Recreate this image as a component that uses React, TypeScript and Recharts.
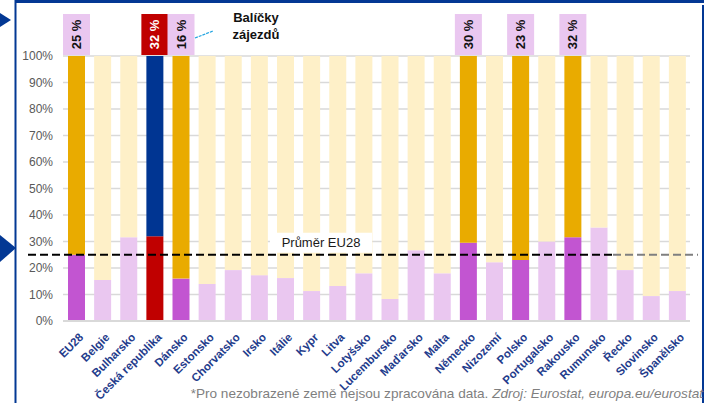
import { Bar, CartesianGrid, Cell, ComposedChart, LabelList, ReferenceLine, XAxis, YAxis } from "recharts";

const countries = [
  "EU28", "Belgie", "Bulharsko", "Česká republika", "Dánsko", "Estonsko", "Chorvatsko", "Irsko",
  "Itálie", "Kypr", "Litva", "Lotyšsko", "Lucembursko", "Maďarsko", "Malta", "Německo",
  "Nizozemí", "Polsko", "Portugalsko", "Rakousko", "Rumunsko", "Řecko", "Slovinsko", "Španělsko",
];
// share of package holidays (%)
const packageShare = [
  25, 15.5, 31.6, 32, 16, 14, 19.2, 17.3, 16.2, 11.3, 13.2, 18, 8.3, 26.7, 18, 29.5,
  22.2, 23, 30, 31.6, 35.3, 19.2, 9.4, 11.3,
];
const highlighted = ["EU28", "Dánsko", "Německo", "Polsko", "Rakousko"];
const czech = "Česká republika";
const topLabels: Record<string, string> = {
  EU28: "25 %", "Česká republika": "32 %", Dánsko: "16 %", Německo: "30 %", Polsko: "23 %", Rakousko: "32 %",
};
const euAverage = 25;
const yTicks = [0, 10, 20, 30, 40, 50, 60, 70, 80, 90, 100];

const data = countries.map((name, i) => ({
  name,
  share: packageShare[i],
  rest: 100 - packageShare[i],
  label: topLabels[name] ?? "",
}));

const FONT = "'Liberation Sans', Arial, sans-serif";
const BLUE = "#033894";

function bottomColor(name: string) {
  if (name === czech) return "#C00000";
  if (highlighted.includes(name)) return "#C255D1";
  return "#EAC7F0";
}

function topColor(name: string) {
  if (name === czech) return "#003592";
  if (highlighted.includes(name)) return "#E9AB00";
  return "#FEF0C8";
}

function XTick({ x, y, payload }: any) {
  const tx = x + 8;
  const ty = y + 9;
  return (
    <text x={tx} y={ty} transform={`rotate(-45, ${tx}, ${ty})`} textAnchor="end"
      fill="#1F3C8C" fontSize={11.5} fontWeight="bold" fontFamily={FONT}>
      {payload.value}
    </text>
  );
}

function TopLabel(props: any) {
  const { x, y, width, value } = props;
  if (!value) return null;
  const cx = x + width / 2;
  const isCz = props.index === countries.indexOf(czech);
  return (
    <g>
      <rect x={cx - 13.5} y={y - 42} width={27} height={41} fill={isCz ? "#C00000" : "#EAC7F0"} />
      <text x={cx} y={y - 21.5} transform={`rotate(-90, ${cx}, ${y - 21.5})`} textAnchor="middle"
        dominantBaseline="central" fontSize={13} fontWeight="bold" fontFamily={FONT}
        fill={isCz ? "#FFFFFF" : "#111111"}>
        {value}
      </text>
    </g>
  );
}

function AverageLine(props: any) {
  const y = props.y1;
  return (
    <g>
      <rect x={270} y={y - 22} width={102} height={20} fill="#FFFFFF" />
      <text x={321} y={y - 12} textAnchor="middle" dominantBaseline="central" fontSize={13}
        fontFamily={FONT} fill="#1A1A1A">
        Průměr EU28
      </text>
      <line x1={28} x2={613} y1={y} y2={y} stroke="#000000" strokeWidth={2} strokeDasharray="8 4" />
      <line x1={613} x2={698} y1={y} y2={y} stroke="#7F7F7F" strokeWidth={2} strokeDasharray="8 4" />
    </g>
  );
}

export default function App() {
  return (
    <div style={{ position: "absolute", left: 0, top: 0, width: 711, height: 403, background: "#FFFFFF" }}>
      <ComposedChart width={711} height={403} data={data} barSize={17}
        margin={{ top: 56, right: 21, bottom: 72, left: 10 }} style={{ fontFamily: FONT }}>
        <CartesianGrid vertical={false} stroke="#D9D9D9" strokeWidth={1.5} />
        <XAxis dataKey="name" interval={0} height={10} tickLine={false}
          axisLine={{ stroke: "#D9D9D9", strokeWidth: 2 }} tick={<XTick />} />
        <YAxis domain={[0, 100]} ticks={yTicks} width={53} tickLine={false} axisLine={false}
          tickMargin={4} tickFormatter={(v) => `${v}%`}
          tick={{ fill: "#595959", fontSize: 12, fontFamily: FONT }} />
        <Bar dataKey="share" stackId="a" isAnimationActive={false}>
          {data.map((d) => (
            <Cell key={d.name} fill={bottomColor(d.name)} />
          ))}
        </Bar>
        <Bar dataKey="rest" stackId="a" isAnimationActive={false}>
          {data.map((d) => (
            <Cell key={d.name} fill={topColor(d.name)} />
          ))}
          <LabelList dataKey="label" content={<TopLabel />} />
        </Bar>
        <ReferenceLine y={euAverage} shape={<AverageLine />} />
      </ComposedChart>
      <svg width={711} height={403} style={{ position: "absolute", left: 0, top: 0, pointerEvents: "none" }}>
        <rect x={15} y={0} width={689} height={3} fill={BLUE} />
        <rect x={14.5} y={0} width={2} height={403} fill={BLUE} />
        <rect x={702} y={5} width={2} height={398} fill={BLUE} />
        <polygon points="0,13 11,20 0,27" fill={BLUE} />
        <polygon points="0,235 16,248 0,262" fill={BLUE} />
        <line x1={195} y1={38} x2={213} y2={31} stroke="#1FA3E0" strokeWidth={1.2} strokeDasharray="3 1" />
        <text x={256} y={17} textAnchor="middle" dominantBaseline="central" fontSize={13} fontWeight="bold"
          fontFamily={FONT} fill="#111111">
          Balíčky
        </text>
        <text x={256} y={34} textAnchor="middle" dominantBaseline="central" fontSize={13} fontWeight="bold"
          fontFamily={FONT} fill="#111111">
          zájezdů
        </text>
        <text x={703} y={398} textAnchor="end" fontSize={13.6} fontFamily={FONT} fill="#7F7F7F">
          *Pro nezobrazené země nejsou zpracována data.{" "}
          <tspan fontStyle="italic">Zdroj: Eurostat, europa.eu/eurostat</tspan>
        </text>
      </svg>
    </div>
  );
}
